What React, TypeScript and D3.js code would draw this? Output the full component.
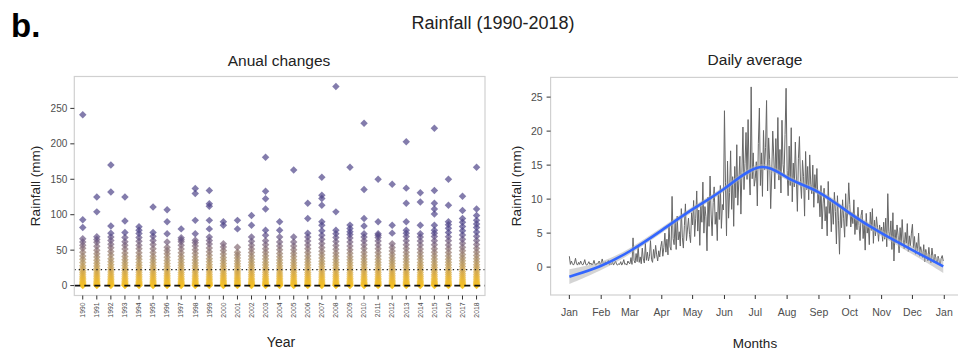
import React from "react";
import * as d3 from "d3";

// ---------- Data ----------
const YEARS = [1990,1991,1992,1993,1994,1995,1996,1997,1998,1999,2000,2001,2002,2003,2004,2005,2006,2007,2008,2009,2010,2011,2012,2013,2014,2015,2016,2017,2018];

// daily rainfall values (mm) per year, as read from the dot columns
const ANNUAL_RAIN: number[][] = [
  [0,0.6,1.4,2.8,4.2,6,8.1,10.3,12.6,15.4,18.2,21,24.5,28,32.4,37,41.8,47,52.5,57,61.5,66,82,93,241],
  [0,0.4,1.2,2.5,4,5.8,7.7,10,12.4,15,17.8,20.9,24,27.6,31.5,35.8,40.2,45,50,55.5,61,65,69,104,125],
  [0,0.7,1.6,3.1,4.6,6.4,8.5,10.8,13.3,16,19,22.2,25.6,29.3,33.5,38,43,48,53.5,58.4,63.6,68.5,74,84,132,170],
  [0,0.5,1.3,2.6,4.1,5.9,7.8,10.1,12.5,15.2,18,21.2,24.6,28.3,32.2,36.6,41,46,51.5,56.8,62,68,75,91,125],
  [0,0.6,1.5,2.9,4.4,6.2,8.3,10.6,13,15.8,18.7,21.8,25,28.7,32.6,37,41.5,46.4,51.8,57,62.5,68,73.5,78,83],
  [0,0.5,1.3,2.7,4.2,6,8,10.3,12.8,15.5,18.4,21.5,24.8,28.4,32.4,36.8,41.5,46.5,52,57.8,63.5,69.5,75,111],
  [0,0.4,1.1,2.4,3.8,5.5,7.4,9.6,12,14.6,17.4,20.5,23.8,27.4,31.3,35.5,40,44.8,49.5,54,61.5,73,90,107],
  [0,0.6,1.4,2.8,4.3,6.1,8.1,10.4,12.9,15.6,18.5,21.7,25,28.7,32.6,36.9,41.4,46.3,51.5,57,62,64.5,67.6,80],
  [0,0.5,1.3,2.6,4.1,5.8,7.8,10,12.5,15.1,18,21,24.3,27.9,31.8,36,40.5,45.5,50.6,55.8,60.5,64,73,92,130,137],
  [0,0.6,1.5,2.9,4.5,6.3,8.4,10.8,13.3,16.1,19.1,22.3,25.8,29.5,33.6,38,42.8,47.8,53,58.5,63.5,68.5,80,92,112,115.5,134],
  [0,0.4,1.2,2.5,3.9,5.6,7.5,9.7,12.1,14.7,17.5,20.5,23.8,27.3,31.1,35.3,39.7,44.5,49.5,54.4,59,85,90],
  [0,0.5,1.3,2.6,4,5.7,7.6,9.8,12.2,14.8,17.6,20.6,23.8,27.2,30.8,34.7,38.8,43,47,54,80,92],
  [0,0.6,1.5,2.9,4.4,6.2,8.2,10.5,13,15.8,18.8,22,25.4,29,33,37.3,41.8,46.6,51.7,57,62.6,68.5,85,99],
  [0,0.5,1.4,2.8,4.3,6.1,8.1,10.4,12.9,15.7,18.7,21.9,25.3,29,33,37.4,42,46.9,52,57.6,63.3,71,78,108,122.5,133,181],
  [0,0.4,1.2,2.5,4,5.7,7.7,9.9,12.3,15,17.9,21,24.3,27.9,31.8,36,40.5,45.3,50.4,55.8,61.4,68.5,78,90],
  [0,0.6,1.4,2.8,4.3,6,8,10.2,12.7,15.4,18.3,21.4,24.7,28.3,32.2,36.4,40.9,45.6,50.6,55.8,61.5,68.5,163],
  [0,0.5,1.3,2.7,4.2,6,8,10.3,12.8,15.6,18.6,21.8,25.2,28.9,32.9,37.2,41.8,46.7,51.9,57.4,63,68.6,74,94.6,116],
  [0,0.6,1.5,3,4.6,6.4,8.5,10.9,13.5,16.4,19.5,22.8,26.4,30.3,34.4,38.8,43.5,48.5,53.8,59.4,65.2,71,77.5,85,90,113.5,123,127.6,153],
  [0,0.5,1.3,2.6,4.1,5.9,7.9,10.2,12.7,15.4,18.3,21.5,24.9,28.6,32.5,36.8,41.3,46.1,51.2,56.6,62.2,68,73,78,104,281],
  [0,0.4,1.2,2.5,4,5.8,7.8,10.1,12.6,15.3,18.2,21.3,24.6,28.2,32.1,36.3,40.8,45.6,50.7,56,61.5,67,72,76,80.6,85.3,167],
  [0,0.6,1.5,2.9,4.5,6.3,8.4,10.7,13.2,16,19,22.2,25.6,29.3,33.3,37.6,42.2,47,52.2,57.6,63.2,68.5,73,84,94.6,135.6,229],
  [0,0.5,1.4,2.8,4.3,6.1,8.1,10.4,12.9,15.7,18.7,21.9,25.3,29,33,37.3,41.9,46.8,52,57.4,63,68,71,73,90,150],
  [0,0.4,1.2,2.5,3.9,5.6,7.5,9.7,12.1,14.7,17.5,20.5,23.7,27.2,31,35,39.3,43.9,48.8,53.9,59,74,85,143],
  [0,0.6,1.5,2.9,4.4,6.2,8.3,10.6,13.1,15.9,18.9,22.1,25.5,29.2,33.2,37.5,42.1,47,52.2,57.7,63.4,69.3,74,78,90,116,137.5,203],
  [0,0.5,1.3,2.7,4.2,5.9,7.9,10.2,12.7,15.4,18.4,21.6,25,28.7,32.7,37,41.6,46.5,51.7,57.2,62.9,68.5,73,85,118,131],
  [0,0.6,1.4,2.8,4.3,6.1,8.2,10.5,13,15.8,18.8,22,25.4,29.1,33.1,37.4,42,46.9,52.1,57.6,63.3,69.2,74,78,85,101,108,116,134,222],
  [0,0.5,1.3,2.6,4.1,5.9,7.9,10.2,12.7,15.5,18.5,21.7,25.2,28.9,32.9,37.2,41.8,46.7,51.9,57.4,63.1,69,75,81,86,90,113.5,150],
  [0,0.6,1.5,3,4.6,6.5,8.6,11,13.7,16.6,19.8,23.2,26.8,30.7,34.9,39.3,44,49,54.2,59.7,65.4,71.3,77.4,83.5,89.5,94.6,106,126],
  [0,0.5,1.4,2.8,4.4,6.2,8.3,10.6,13.2,16,19,22.3,25.8,29.5,33.5,37.8,42.4,47.3,52.5,58,63.7,69.6,75.7,81.8,87,92,99,108,167],
];

const ZERO_LINE = 0;
const MEAN_LINE = 22.5;
const LEFT_Y_TICKS = [0, 50, 100, 150, 200, 250];

// daily average rainfall (mm), month by month
const JAN = [1.6,0.4,0.9,0.5,0.3,0.6,1.3,0.5,0.3,0.7,0.4,0.9,0.5,0.3,0.6,1.1,0.4,0.3,0.5,0.8,0.4,0.6,0.3,0.5,1.0,0.4,0.3,0.6,0.5,0.9,0.4];
const FEB = [0.6,1.2,0.5,0.3,0.8,0.4,0.6,1.0,0.3,0.5,0.4,0.7,0.3,0.6,0.9,0.4,0.3,0.5,0.4,0.8,0.3,0.6,1.1,0.4,0.5,0.3,0.9,0.6];
const MAR = [0.5,1.4,0.4,4.3,1.0,0.6,2.0,0.8,3.1,0.7,1.5,0.5,2.8,1.2,0.6,3.5,1.0,2.2,0.9,1.6,3.9,1.1,0.7,2.6,1.3,3.2,1.8,0.9,2.4,1.5,3.0];
const APR = [3.8,1.6,2.9,5.0,2.2,4.1,1.8,6.3,3.0,2.5,10.4,4.2,3.3,6.8,2.6,7.5,4.0,5.2,3.1,8.6,4.4,2.8,6.1,9.3,3.9,5.6,7.2,4.8,3.6,8.0];
const MAY = [6.2,9.8,4.5,7.1,11.2,5.3,8.4,3.2,9.0,6.6,12.5,5.0,8.9,7.4,2.4,10.3,6.0,13.4,7.8,4.6,9.5,11.8,6.3,8.1,3.9,10.7,7.0,12.0,5.7,9.2,8.4];
const JUN = [23.0,12.4,4.6,15.6,7.2,11.0,17.1,8.5,13.3,6.0,14.8,10.2,18.0,9.1,12.7,16.3,7.8,13.9,20.6,11.4,15.2,19.8,12.9,21.7,14.1,10.6,26.5,13.0,16.8,11.9];
const JUL = [13.0,15.5,9.0,18.2,23.4,12.0,16.8,10.4,20.1,14.3,17.6,24.5,11.2,19.0,15.8,8.6,13.7,20.0,16.2,11.5,18.9,14.0,22.0,12.8,17.3,10.9,21.6,15.1,13.4,19.5,26.3];
const AUG = [14.2,10.5,17.8,12.0,20.5,9.6,15.3,11.8,18.4,13.1,8.2,16.0,19.2,12.6,10.1,15.7,13.3,7.5,17.0,11.4,14.8,9.9,16.5,12.2,10.8,15.0,8.8,13.6,11.0,14.5,9.4];
const SEP = [10.8,7.4,12.0,5.6,9.3,11.6,6.8,8.9,4.6,12.6,7.9,10.1,5.2,9.6,6.3,11.0,8.2,3.4,10.5,6.9,1.9,8.7,5.8,9.9,7.2,4.4,10.8,6.0,8.5,12.4];
const OCT = [9.2,5.9,8.0,6.4,9.9,4.8,7.3,5.5,8.8,6.1,3.9,7.6,8.4,4.2,6.7,2.5,7.9,5.0,6.3,3.3,8.1,5.4,8.6,3.5,6.9,4.6,7.4,5.8,3.8,6.2,5.1];
const NOV = [5.9,3.8,6.6,4.1,7.2,3.0,10.8,5.2,4.3,6.8,2.6,8.0,0.9,5.5,3.6,6.2,4.7,2.1,5.8,3.2,7.0,4.0,2.7,5.1,3.5,6.4,2.3,4.6,3.1,5.0];
const DEC = [6.3,2.8,4.5,1.9,3.6,2.4,5.0,1.6,3.0,2.2,1.4,3.3,0.8,2.6,1.7,0.9,2.9,1.3,0.6,2.8,1.5,0.7,1.9,1.1,0.5,1.6,0.9,0.4,1.3,1.7,0.9];

// smoothed trend (loess-like) control values with standard error, at day-of-year knots
const SMOOTH_DAYS = [0, 31, 59, 90, 120, 151, 187, 212, 243, 273, 304, 334, 364];
const SMOOTH_VALUES = [-1.4, 0.05, 2.25, 5.4, 8.6, 11.3, 16.0, 12.8, 11.35, 7.8, 4.9, 2.5, 0.1];
const SMOOTH_SE = [1.1, 0.55, 0.45, 0.4, 0.4, 0.4, 0.45, 0.4, 0.4, 0.4, 0.45, 0.55, 0.95];

const MONTH_LABELS = ["Jan","Feb","Mar","Apr","May","Jun","Jul","Aug","Sep","Oct","Nov","Dec","Jan"];
const MONTH_START_DAYS = [0, 31, 59, 90, 120, 151, 181, 212, 243, 273, 304, 334, 365];
const RIGHT_Y_TICKS = [0, 5, 10, 15, 20, 25];

// ---------- Component ----------
const FONT = "'Liberation Sans', Arial, Helvetica, sans-serif";

export default function App() {
  const W = 958, H = 356;

  // Left panel
  const L = { x0: 74.3, x1: 485, y0: 76.5, y1: 295.5 };
  const xL = d3.scalePoint<string>().domain(YEARS.map(String)).range([L.x0, L.x1]).padding(0.6);
  const yL = d3.scaleLinear().domain([-14, 295]).range([L.y1, L.y0]);
  const colorL = d3.scaleLinear<string>()
    .domain([0, 14, 38, 75])
    .range(["#f8c41d", "#e3b23c", "#a88c63", "#4f4589"])
    .interpolate(d3.interpolateLab)
    .clamp(true);
  const diamond = d3.symbol(d3.symbolSquare, 28)();

  // Right panel
  const R = { x0: 550.6, x1: 962, y0: 77.4, y1: 295 };
  const xR = d3.scaleLinear().domain([-18.25, 382.25]).range([R.x0, R.x1]);
  const yR = d3.scaleLinear().domain([-4.1, 27.9]).range([R.y1, R.y0]);
  const daily = [...JAN, ...FEB, ...MAR, ...APR, ...MAY, ...JUN, ...JUL, ...AUG, ...SEP, ...OCT, ...NOV, ...DEC];
  const dailyLine = d3.line<number>().x((_, i) => xR(i)).y((v) => yR(v));
  const smoothPts = SMOOTH_DAYS.map((d, i) => ({ d, v: SMOOTH_VALUES[i], se: SMOOTH_SE[i] }));
  const smoothLine = d3.line<any>().x((p) => xR(p.d)).y((p) => yR(p.v)).curve(d3.curveBasis);
  const smoothBand = d3.area<any>().x((p) => xR(p.d)).y0((p) => yR(p.v - p.se)).y1((p) => yR(p.v + p.se)).curve(d3.curveBasis);

  const tickCol = "#333";
  const labCol = "#4d4d4d";
  const borderCol = "#d0d0d0";

  return (
    <svg width={W} height={H} style={{ position: "absolute", left: 0, top: 0, background: "#fff" }} fontFamily={FONT}>
      <rect x={0} y={0} width={W} height={H} fill="#fff" />
      <text x={11} y={37} fontSize={33} fontWeight="bold" fill="#000">b.</text>
      <text x={493} y={29} fontSize={18} textAnchor="middle" fill="#222">Rainfall (1990-2018)</text>

      {/* ---- Left panel ---- */}
      <text x={279} y={66} fontSize={15.5} textAnchor="middle" fill="#222">Anual changes</text>
      <g>
        {YEARS.map((yr, i) => (
          <g key={yr}>
            {ANNUAL_RAIN[i].map((v, j) => (
              <path key={j} d={diamond as string}
                transform={`translate(${xL(String(yr))},${yL(v)}) rotate(45)`}
                fill={colorL(v)} fillOpacity={0.7} />
            ))}
          </g>
        ))}
      </g>
      <line x1={L.x0} x2={L.x1} y1={yL(ZERO_LINE)} y2={yL(ZERO_LINE)} stroke="#111" strokeWidth={1.6} strokeDasharray="6,4" />
      <line x1={L.x0} x2={L.x1} y1={yL(MEAN_LINE)} y2={yL(MEAN_LINE)} stroke="#222" strokeWidth={1.4} strokeDasharray="1.4,3" />
      <rect x={L.x0} y={L.y0} width={L.x1 - L.x0} height={L.y1 - L.y0} fill="none" stroke={borderCol} strokeWidth={1.2} />
      {LEFT_Y_TICKS.map((t) => (
        <g key={t}>
          <line x1={L.x0 - 4} x2={L.x0} y1={yL(t)} y2={yL(t)} stroke={tickCol} strokeWidth={1} />
          <text x={L.x0 - 7} y={yL(t)} dy="0.35em" fontSize={10} textAnchor="end" fill={labCol}>{t}</text>
        </g>
      ))}
      {YEARS.map((yr) => {
        const x = xL(String(yr)) as number;
        return (
          <g key={yr}>
            <line x1={x} x2={x} y1={L.y1} y2={L.y1 + 4} stroke={tickCol} strokeWidth={1} />
            <text transform={`translate(${x + 2.3},${L.y1 + 7}) rotate(-90)`} fontSize={6.8} textAnchor="end" fill={labCol}>{yr}</text>
          </g>
        );
      })}
      <text transform="translate(40,186) rotate(-90)" fontSize={13.5} textAnchor="middle" fill="#222">Rainfall (mm)</text>
      <text x={281} y={347} fontSize={14} textAnchor="middle" fill="#222">Year</text>

      {/* ---- Right panel ---- */}
      <text x={755} y={65} fontSize={15.5} textAnchor="middle" fill="#222">Daily average</text>
      <path d={dailyLine(daily) as string} fill="none" stroke="#666" strokeWidth={1} />
      <path d={smoothBand(smoothPts) as string} fill="#b0b0b0" fillOpacity={0.55} />
      <path d={smoothLine(smoothPts) as string} fill="none" stroke="#3366ff" strokeWidth={2.6} />
      <rect x={R.x0} y={R.y0} width={R.x1 - R.x0} height={R.y1 - R.y0} fill="none" stroke={borderCol} strokeWidth={1.2} />
      {RIGHT_Y_TICKS.map((t) => (
        <g key={t}>
          <line x1={R.x0 - 4} x2={R.x0} y1={yR(t)} y2={yR(t)} stroke={tickCol} strokeWidth={1} />
          <text x={R.x0 - 8} y={yR(t)} dy="0.35em" fontSize={10.5} textAnchor="end" fill={labCol}>{t}</text>
        </g>
      ))}
      {MONTH_START_DAYS.map((d, i) => (
        <g key={i}>
          <line x1={xR(d)} x2={xR(d)} y1={R.y1} y2={R.y1 + 4} stroke={tickCol} strokeWidth={1} />
          <text x={xR(d)} y={R.y1 + 21} fontSize={10.5} textAnchor="middle" fill={labCol}>{MONTH_LABELS[i]}</text>
        </g>
      ))}
      <text transform="translate(521,186) rotate(-90)" fontSize={13.5} textAnchor="middle" fill="#222">Rainfall (mm)</text>
      <text x={755} y={348} fontSize={13.5} textAnchor="middle" fill="#222">Months</text>
    </svg>
  );
}
